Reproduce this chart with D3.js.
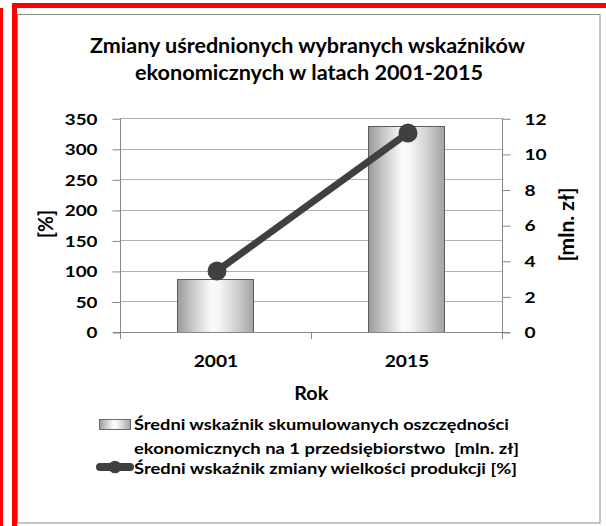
<!DOCTYPE html>
<html><head><meta charset="utf-8">
<script src="https://cdn.jsdelivr.net/npm/d3@7"></script>
<style>
body{margin:0;background:#fff}
svg{display:block}
text{font-family:Lato,'Open Sans',sans-serif;font-weight:700;fill:#000;white-space:pre}
</style>
</head><body>
<svg id="c" width="606" height="526"></svg>
<script>
// ---- data ----
const years = ["2001", "2015"];
const savings = [2.96, 11.57];      // mln zł (bars, right axis)
const production = [100, 326];      // % (line, left axis)
const leftTicks = [0, 50, 100, 150, 200, 250, 300, 350];
const rightTicks = [0, 2, 4, 6, 8, 10, 12];
const titleLines = ["Zmiany uśrednionych wybranych wskaźników", "ekonomicznych w latach 2001-2015"];
const xTitle = "Rok";
const yLeftTitle = "[%]";
const yRightTitle = "[mln. zł]";
const legendBarLines = ["Średni wskaźnik skumulowanych oszczędności", "ekonomicznych na 1 przedsiębiorstwo  [mln. zł]"];
const legendLineText = "Średni wskaźnik zmiany wielkości produkcji [%]";

// ---- setup ----
const svg = d3.select("#c");
const fit = (sel, w) => sel.attr("textLength", w).attr("lengthAdjust", "spacingAndGlyphs");
const AX = "#878787", GRID = "#b1b1b1";

svg.append("rect").attr("width", 606).attr("height", 526).attr("fill", "#fff");

// red frames
svg.append("rect").attr("x", 0).attr("y", 8).attr("width", 3).attr("height", 518).attr("fill", "#ff0000");
svg.append("rect").attr("x", 12).attr("y", 3).attr("width", 594).attr("height", 5).attr("fill", "#ff0000");
svg.append("rect").attr("x", 12).attr("y", 3).attr("width", 5).attr("height", 523).attr("fill", "#ff0000");
// grey chart border
svg.append("rect").attr("x", 17.5).attr("y", 14.5).attr("width", 582.5).attr("height", 508.5)
  .attr("fill", "none").attr("stroke", "#8e8e8e").attr("stroke-width", 1);

// gradient
const defs = svg.append("defs");
const g = defs.append("linearGradient").attr("id", "barGrad").attr("x1", "0").attr("x2", "1").attr("y1", "0").attr("y2", "0");
[[0, "#9a9a9a"], [0.2, "#c8c8c8"], [0.45, "#fbfbfb"], [0.55, "#f6f6f6"], [0.8, "#cbcbcb"], [1, "#a2a2a2"]]
  .forEach(([o, c]) => g.append("stop").attr("offset", o).attr("stop-color", c));

// title
svg.selectAll("text.title").data(titleLines).join("text").attr("class", "title")
  .attr("x", (d, i) => i ? 309 : 307.5).attr("y", (d, i) => 53.3 + i * 26.8)
  .attr("text-anchor", "middle").style("font-size", "21px").text(d => d)
  .each(function (d, i) { fit(d3.select(this), i ? 348 : 435); });

// scales
const x = d3.scaleBand().domain(years).range([120.5, 502.5]).paddingInner(0).paddingOuter(0);
const yL = d3.scaleLinear().domain([0, 350]).range([332, 118.3]);
const yR = d3.scaleLinear().domain([0, 12]).range([332, 118.3]);
const bw = x.bandwidth();

// grid
svg.append("g").selectAll("line").data(leftTicks.filter(t => t > 0)).join("line")
  .attr("x1", 120.5).attr("x2", 502.5)
  .attr("y1", d => Math.round(yL(d)) + 0.5).attr("y2", d => Math.round(yL(d)) + 0.5)
  .attr("stroke", GRID).attr("stroke-width", 1);

// bars
svg.append("g").selectAll("rect").data(years).join("rect")
  .attr("x", (d) => Math.round(x(d) + bw * 0.3) - 0.5)
  .attr("width", Math.round(bw * 0.4))
  .attr("y", (d, i) => Math.round(yR(savings[i])) + 0.5)
  .attr("height", (d, i) => Math.round(yR(0)) - Math.round(yR(savings[i])))
  .attr("fill", "url(#barGrad)").attr("stroke", "#5c5c5c").attr("stroke-width", 1);

// left axis
const gl = svg.append("g").attr("transform", "translate(120.5,0)")
  .call(d3.axisLeft(yL).tickValues(leftTicks).tickSize(8).tickSizeOuter(0).tickPadding(15));
gl.select(".domain").remove();
gl.selectAll(".tick line").attr("stroke", AX).attr("transform", "translate(0,0.5)");
gl.selectAll(".tick text").attr("font-family", null).attr("font-size", null)
  .style("font-size", "16px").attr("dy", "0.36em")
  .each(function (d) { fit(d3.select(this), String(d).length * 10.9); });
gl.append("line").attr("x1", 0).attr("x2", 0).attr("y1", 118.3).attr("y2", 339).attr("stroke", AX);

// right axis
const gr = svg.append("g").attr("transform", "translate(502.5,0)")
  .call(d3.axisRight(yR).tickValues(rightTicks).tickSize(8).tickSizeOuter(0).tickPadding(14));
gr.select(".domain").remove();
gr.selectAll(".tick line").attr("stroke", AX).attr("transform", "translate(0,0.5)");
gr.selectAll(".tick text").attr("font-family", null).attr("font-size", null)
  .style("font-size", "16px").attr("dy", "0.36em")
  .each(function (d) { fit(d3.select(this), String(d).length * 11.1); });
gr.append("line").attr("x1", 0).attr("x2", 0).attr("y1", 118.3).attr("y2", 339).attr("stroke", AX);

// bottom axis
const gb = svg.append("g").attr("transform", "translate(0,332.5)")
  .call(d3.axisBottom(x).tickSize(0).tickPadding(0));
gb.select(".domain").remove();
gb.append("line").attr("x1", 113).attr("x2", 510).attr("y1", 0).attr("y2", 0).attr("stroke", AX);
gb.selectAll(".tick text").attr("font-family", null).attr("font-size", null)
  .style("font-size", "17px").attr("dy", null).attr("y", 34.8)
  .each(function () { fit(d3.select(this), 44.5); });
const xb = [x(years[0]), x(years[1]), x(years[1]) + bw];
gb.selectAll("line.xt").data(xb).join("line").attr("class", "xt")
  .attr("x1", d => d).attr("x2", d => d).attr("y1", 0).attr("y2", 6.5).attr("stroke", AX);

// axis titles
svg.append("text").attr("x", 311.3).attr("y", 400).attr("text-anchor", "middle")
  .style("font-size", "19px").text(xTitle).call(fit, 34);
svg.append("text").attr("transform", "translate(53.3,224) rotate(-90)").attr("text-anchor", "middle")
  .style("font-size", "20px").text(yLeftTitle).call(fit, 28);
svg.append("text").attr("transform", "translate(574,224.5) rotate(-90)").attr("text-anchor", "middle")
  .style("font-size", "20px").text(yRightTitle).call(fit, 74);

// line series
const pts = years.map((d, i) => [x(d) + bw / 2 + 1, yL(production[i])]);
svg.append("path").attr("d", d3.line()(pts)).attr("fill", "none")
  .attr("stroke", "#404040").attr("stroke-width", 7).attr("stroke-linecap", "round");
svg.append("g").selectAll("circle").data(pts).join("circle")
  .attr("cx", d => d[0]).attr("cy", d => d[1]).attr("r", 9.5).attr("fill", "#404040");

// legend
svg.append("rect").attr("x", 99.5).attr("y", 419.5).attr("width", 31).attr("height", 10)
  .attr("fill", "url(#barGrad)").attr("stroke", "#6a6a6a");
svg.selectAll("text.lb").data(legendBarLines).join("text").attr("class", "lb")
  .attr("x", 134).attr("y", (d, i) => 430 + i * 23.5).style("font-size", "15px").text(d => d)
  .each(function (d, i) { fit(d3.select(this), i ? 385 : 375); });
svg.append("line").attr("x1", 100).attr("x2", 130).attr("y1", 467).attr("y2", 467)
  .attr("stroke", "#404040").attr("stroke-width", 8).attr("stroke-linecap", "round");
svg.append("circle").attr("cx", 115).attr("cy", 467).attr("r", 6.3).attr("fill", "#404040");
svg.append("text").attr("x", 134).attr("y", 474).style("font-size", "15px").text(legendLineText).call(fit, 383);
</script>
</body></html>
